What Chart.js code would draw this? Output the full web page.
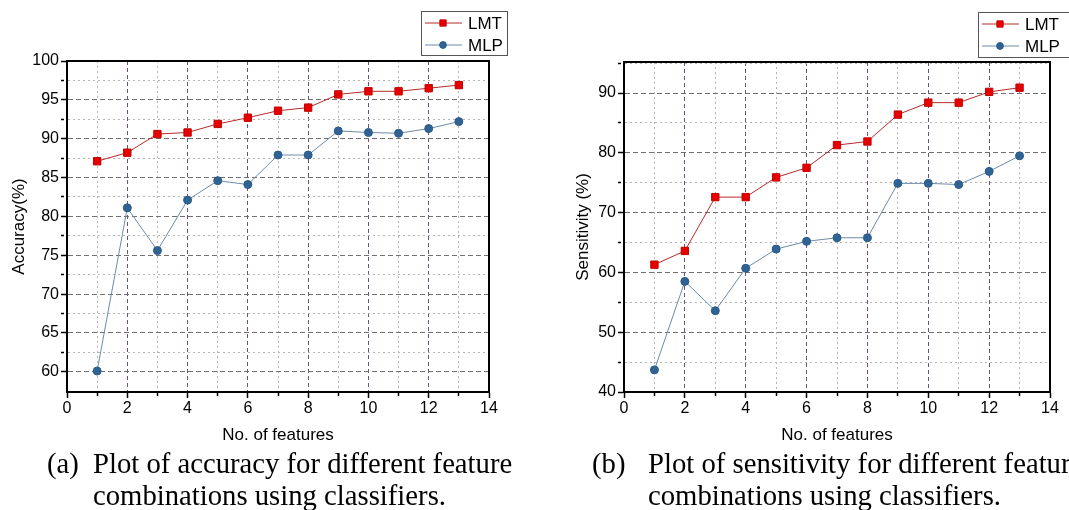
<!DOCTYPE html>
<html>
<head>
<meta charset="utf-8">
<script src="https://cdn.jsdelivr.net/npm/chart.js@4/dist/chart.umd.min.js"></script>
<style>
  html, body { margin: 0; padding: 0; background: #fff; }
  body { width: 1069px; height: 510px; position: relative; overflow: hidden; }
  .wrap { position: absolute; top: 0; height: 460px; }
  .cap { position: absolute; font-family: "Liberation Serif", "Times New Roman", serif; font-size: 28.7px; color: #000; white-space: nowrap; line-height: 1; }
</style>
</head>
<body>
<div class="wrap" style="left:0;width:530px"><canvas id="accChart"></canvas></div>
<div class="wrap" style="left:540px;width:529px"><canvas id="senChart"></canvas></div>

<div class="cap" style="left:47px;top:449px">(a)</div>
<div class="cap" style="left:93px;top:449px">Plot of accuracy for different feature</div>
<div class="cap" style="left:93px;top:481px">combinations using classifiers.</div>
<div class="cap" style="left:592px;top:449px">(b)</div>
<div class="cap" style="left:648px;top:449px">Plot of sensitivity for different feature</div>
<div class="cap" style="left:648px;top:481px">combinations using classifiers.</div>

<script>
// data
const features = [1, 2, 3, 4, 5, 6, 7, 8, 9, 10, 11, 12, 13];
const seriesNames = ['LMT', 'MLP'];
const accuracyLMT = [87.1, 88.2, 90.6, 90.8, 91.9, 92.7, 93.6, 94.0, 95.7, 96.1, 96.1, 96.5, 96.9];
const accuracyMLP = [60.1, 81.1, 75.6, 82.1, 84.6, 84.1, 87.9, 87.9, 91.0, 90.8, 90.7, 91.3, 92.2];
const sensitivityLMT = [61.3, 63.6, 72.6, 72.6, 75.9, 77.5, 81.3, 81.9, 86.4, 88.4, 88.4, 90.2, 90.9];
const sensitivityMLP = [43.7, 58.5, 53.6, 60.7, 63.9, 65.2, 65.8, 65.8, 74.9, 74.9, 74.7, 76.9, 79.5];
const xTicks = [0, 2, 4, 6, 8, 10, 12, 14];

const FONT = '"Liberation Sans", Arial, sans-serif';
const lmtStyle = { line: '#b52a2a', fill: '#e60000', edge: '#c00000', pointStyle: 'rect', r: 5.2 };
const mlpStyle = { line: '#6d8ba8', fill: '#2f6394', edge: '#2a5a88', pointStyle: 'circle', r: 4 };

function toPoints(ys) {
    return features.map((x, i) => ({ x: x, y: ys[i] }));
}

function dataset(label, ys, st) {
    return {
        label: label,
        data: toPoints(ys),
        borderColor: st.line,
        borderWidth: 1,
        backgroundColor: st.fill,
        pointBackgroundColor: st.fill,
        pointBorderColor: st.edge,
        pointBorderWidth: 1,
        pointStyle: st.pointStyle,
        pointRadius: st.r,
        pointHoverRadius: st.r,
        tension: 0
    };
}

// frame on top/right + boxed legend like Origin
const framePlugin = {
    id: 'frame',
    afterDraw(chart, args, opts) {
        const { ctx, chartArea: a } = chart;
        ctx.save();
        ctx.strokeStyle = '#000';
        ctx.lineWidth = 2;
        ctx.strokeRect(a.left, a.top, a.right - a.left, a.bottom - a.top);

        // legend
        const L = opts.legend;
        ctx.lineWidth = 1;
        ctx.strokeStyle = '#555';
        ctx.strokeRect(L.x + 0.5, L.y + 0.5, L.w, L.h);
        ctx.font = '17px ' + FONT;
        ctx.textBaseline = 'middle';
        chart.data.datasets.forEach((ds, i) => {
            const cy = L.y + 12 + i * 22;
            ctx.strokeStyle = ds.borderColor;
            ctx.lineWidth = 1;
            ctx.beginPath();
            ctx.moveTo(L.x + 4, cy);
            ctx.lineTo(L.x + 41, cy);
            ctx.stroke();
            ctx.fillStyle = ds.pointBackgroundColor;
            ctx.strokeStyle = ds.pointBorderColor;
            Chart.helpers.drawPoint(ctx, { pointStyle: ds.pointStyle, radius: ds.pointRadius * 0.85, borderWidth: 1 }, L.x + 22, cy);
            ctx.fillStyle = '#000';
            ctx.fillText(ds.label, L.x + 47, cy + 1);
        });
        ctx.restore();
    }
};

function makeChart(id, cfg) {
    const isMinorX = v => v % 2 !== 0;
    const isMinorY = v => Math.abs(v / cfg.yMajor - Math.round(v / cfg.yMajor)) > 1e-6;
    return new Chart(document.getElementById(id), {
        type: 'line',
        data: {
            datasets: [
                dataset(seriesNames[0], cfg.lmt, lmtStyle),
                dataset(seriesNames[1], cfg.mlp, mlpStyle)
            ]
        },
        plugins: [framePlugin],
        options: {
            responsive: false,
            animation: false,
            layout: { padding: { left: 0, right: cfg.padRight, top: cfg.top, bottom: 0 } },
            plugins: {
                legend: { display: false },
                tooltip: { enabled: false },
                frame: { legend: cfg.legend }
            },
            scales: {
                x: {
                    type: 'linear',
                    min: 0,
                    max: 14,
                    afterBuildTicks: s => { s.ticks = []; for (let v = 0; v <= 14; v++) s.ticks.push({ value: v }); },
                    afterFit: s => { s.height = 460 - cfg.bottom; },
                    ticks: {
                        color: '#000',
                        font: { family: FONT, size: 16 },
                        padding: 1,
                        maxRotation: 0,
                        autoSkip: false,
                        callback: v => xTicks.includes(v) ? String(v) : ''
                    },
                    grid: {
                        color: c => (c.tick.value === 0 || c.tick.value === 14) ? 'rgba(0,0,0,0)' : (isMinorX(c.tick.value) ? '#b5b5b5' : '#6e5470'),
                        lineWidth: 1,
                        tickColor: '#000',
                        tickWidth: 1.5,
                        tickLength: 6,
                        tickBorderDash: c => isMinorX(c.tick.value) ? [3, 40] : []
                    },
                    border: {
                        color: '#000',
                        width: 2,
                        dash: c => isMinorX(c.tick.value) ? [2, 3] : [4, 3]
                    },
                    title: {
                        display: true,
                        text: 'No. of features',
                        color: '#000',
                        font: { family: FONT, size: 17 },
                        padding: { top: 0, bottom: 14 }
                    }
                },
                y: {
                    type: 'linear',
                    min: cfg.yMin,
                    max: cfg.yMax,
                    afterBuildTicks: s => {
                        s.ticks = [];
                        for (let v = cfg.yFirst; v <= cfg.yMax + 1e-6; v += cfg.yMajor / 2) s.ticks.push({ value: v });
                    },
                    afterFit: s => { s.width = cfg.left; },
                    ticks: {
                        color: '#000',
                        font: { family: FONT, size: 16 },
                        padding: 2,
                        autoSkip: false,
                        callback: v => isMinorY(v) ? '' : String(v)
                    },
                    grid: {
                        color: c => (c.tick.value >= cfg.yMax - 1e-6) ? 'rgba(0,0,0,0)' : (isMinorY(c.tick.value) ? '#b5b5b5' : '#707070'),
                        lineWidth: 1,
                        tickColor: '#000',
                        tickWidth: 1.5,
                        tickLength: 6,
                        tickBorderDash: c => isMinorY(c.tick.value) ? [3, 40] : []
                    },
                    border: {
                        color: '#000',
                        width: 2,
                        dash: c => isMinorY(c.tick.value) ? [2, 3] : [5, 3]
                    },
                    title: {
                        display: true,
                        text: cfg.yTitle,
                        color: '#000',
                        font: { family: FONT, size: 17 },
                        padding: { top: cfg.yTitlePad, bottom: 0 }
                    }
                }
            }
        }
    });
}

function sizeCanvas(id, w) {
    const c = document.getElementById(id);
    c.width = w;
    c.height = 460;
    c.style.width = w + 'px';
    c.style.height = '460px';
}

sizeCanvas('accChart', 530);
sizeCanvas('senChart', 529);

makeChart('accChart', {
    lmt: accuracyLMT, mlp: accuracyMLP,
    yMin: 57.4, yMax: 100, yFirst: 60, yMajor: 5,
    yTitle: 'Accuracy(%)', yTitlePad: 9,
    left: 67, padRight: 41, top: 61, bottom: 392,
    legend: { x: 421, y: 11, w: 86, h: 44 }
});

makeChart('senChart', {
    lmt: sensitivityLMT, mlp: sensitivityMLP,
    yMin: 40, yMax: 95.2, yFirst: 40, yMajor: 10,
    yTitle: 'Sensitivity (%)', yTitlePad: 33,
    left: 84, padRight: 19, top: 62, bottom: 392,
    legend: { x: 438, y: 12, w: 100, h: 45 }
});
</script>
</body>
</html>
